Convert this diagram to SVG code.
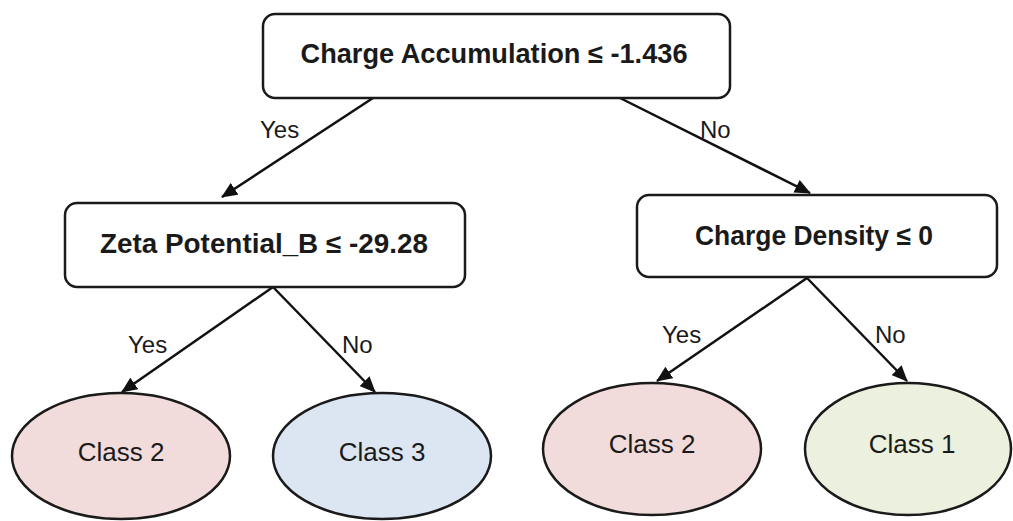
<svg xmlns="http://www.w3.org/2000/svg" width="1013" height="521" viewBox="0 0 1013 521">
<style>
.box{fill:#fff;stroke:#1a1a1a;stroke-width:2.5}
.ell{stroke:#1a1a1a;stroke-width:2.5}
.bt{font-family:"Liberation Sans",Arial,sans-serif;font-weight:bold;font-size:27px;fill:#1a1a1a;text-anchor:middle}
.ct{font-family:"Liberation Sans",Arial,sans-serif;font-size:26px;fill:#1a1a1a;text-anchor:middle}
.lb{font-family:"Liberation Sans",Arial,sans-serif;font-size:24px;fill:#1a1a1a}
.ed{stroke:#111;stroke-width:2.5;fill:none;marker-end:url(#ah)}
</style>
<defs>
<marker id="ah" viewBox="0 0 16 14" refX="15" refY="7" markerWidth="16" markerHeight="14" markerUnits="userSpaceOnUse" orient="auto">
<path d="M0,0 L16,7 L0,14 Z" fill="#111"/>
</marker>
</defs>
<rect width="1013" height="521" fill="#fff"/>
<g id="connectors">
<line class="ed" x1="373" y1="98" x2="222" y2="197"/>
<line class="ed" x1="620" y1="98" x2="810" y2="193"/>
<line class="ed" x1="273" y1="287" x2="122" y2="392"/>
<line class="ed" x1="273" y1="287" x2="375" y2="392"/>
<line class="ed" x1="807" y1="278" x2="657" y2="381"/>
<line class="ed" x1="807" y1="278" x2="907" y2="381"/>
<text class="lb" x="260" y="138">Yes</text>
<text class="lb" x="700" y="138">No</text>
<text class="lb" x="128" y="353">Yes</text>
<text class="lb" x="342" y="353">No</text>
<text class="lb" x="662" y="343">Yes</text>
<text class="lb" x="875" y="343">No</text>
</g>
<g id="root">
<rect class="box" x="263" y="14" width="467" height="84" rx="12"/>
<text class="bt" x="494" y="63" textLength="387" lengthAdjust="spacingAndGlyphs">Charge Accumulation ≤ -1.436</text>
</g>
<g id="zeta">
<rect class="box" x="65" y="203" width="400" height="84" rx="12"/>
<text class="bt" x="264" y="253" textLength="328" lengthAdjust="spacingAndGlyphs">Zeta Potential_B ≤ -29.28</text>
</g>
<g id="density">
<rect class="box" x="637" y="195" width="360" height="82" rx="12"/>
<text class="bt" x="814" y="245" textLength="238" lengthAdjust="spacingAndGlyphs">Charge Density ≤ 0</text>
</g>
<g id="leaf1">
<ellipse class="ell" cx="121" cy="456" rx="109" ry="63" fill="#f2dcdb"/>
<text class="ct" x="121" y="461">Class 2</text>
</g>
<g id="leaf2">
<ellipse class="ell" cx="382" cy="456" rx="109" ry="63" fill="#dce6f2"/>
<text class="ct" x="382" y="461">Class 3</text>
</g>
<g id="leaf3">
<ellipse class="ell" cx="652" cy="449" rx="109" ry="66" fill="#f2dcdb"/>
<text class="ct" x="652" y="453">Class 2</text>
</g>
<g id="leaf4">
<ellipse class="ell" cx="908" cy="449" rx="103" ry="66" fill="#ebf1de"/>
<text class="ct" x="912" y="453">Class 1</text>
</g>
</svg>
